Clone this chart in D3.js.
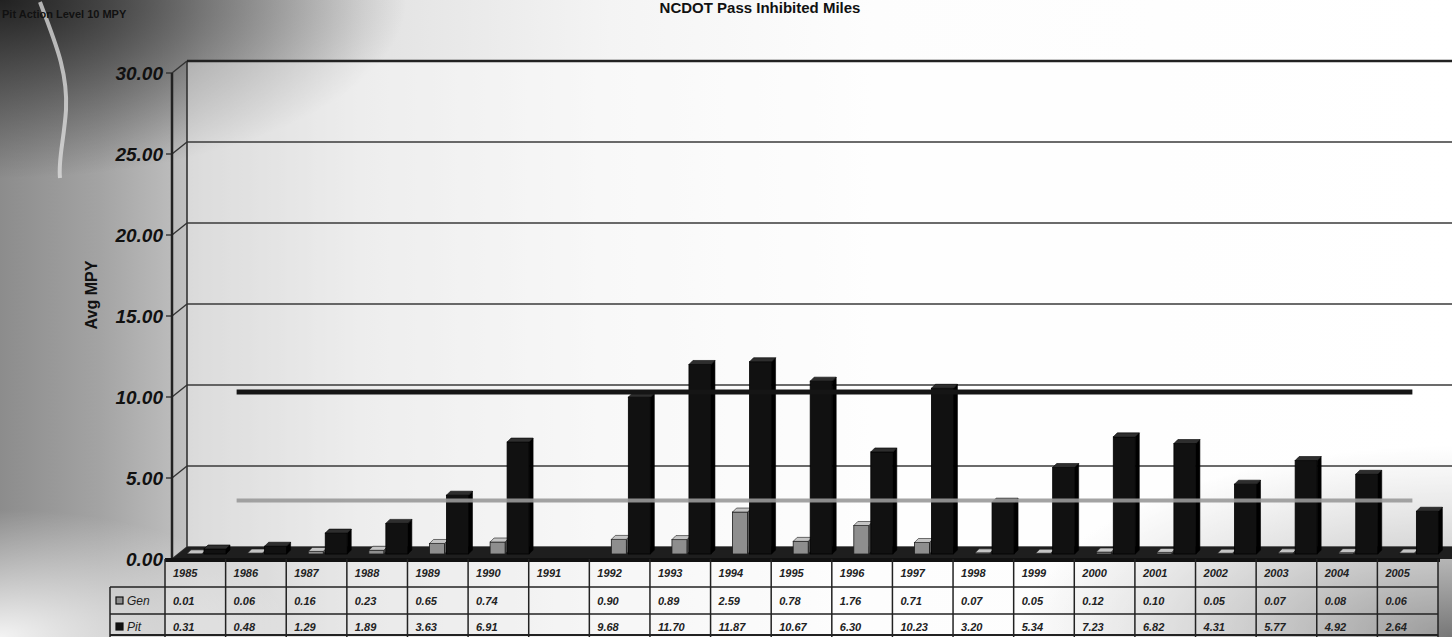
<!DOCTYPE html>
<html>
<head>
<meta charset="utf-8">
<script src="https://cdn.jsdelivr.net/npm/d3@7"></script>
<style>
html,body{margin:0;padding:0;background:#fff;overflow:hidden;}
svg{display:block;}
</style>
</head>
<body>
<svg id="chart" width="1452" height="637"></svg>
<script>
// ---------------- data ----------------
const years = ["1985","1986","1987","1988","1989","1990","1991","1992","1993","1994","1995","1996","1997","1998","1999","2000","2001","2002","2003","2004","2005"];
const genValues = [0.01,0.06,0.16,0.23,0.65,0.74,null,0.90,0.89,2.59,0.78,1.76,0.71,0.07,0.05,0.12,0.10,0.05,0.07,0.08,0.06];
const pitValues = [0.31,0.48,1.29,1.89,3.63,6.91,null,9.68,11.70,11.87,10.67,6.30,10.23,3.20,5.34,7.23,6.82,4.31,5.77,4.92,2.64];
const yTicks = [0,5,10,15,20,25,30];
const seriesNames = ["Gen","Pit"];
const actionLevel = 10;
const lowerLevel = 3.3;
const chartTitle = "NCDOT Pass Inhibited Miles";
const noteText = "Pit Action Level 10 MPY";
const yTitle = "Avg MPY";

// ---------------- layout ----------------
const svg = d3.select("#chart");
const W = 1452, H = 637;
const defs = svg.append("defs");

// background gradients (photo-like)
const g1 = defs.append("linearGradient").attr("id","bgH").attr("x1","0").attr("x2","1").attr("y1","0").attr("y2","0");
[[0,"#8c8c8c"],[0.07,"#a4a4a4"],[0.14,"#c6c6c6"],[0.25,"#e2e2e2"],[0.42,"#f4f4f4"],[0.6,"#fdfdfd"],[1,"#ffffff"]]
  .forEach(([o,c])=>g1.append("stop").attr("offset",o).attr("stop-color",c));
const g2 = defs.append("radialGradient").attr("id","bgTL").attr("cx","0").attr("cy","0").attr("r","0.28");
g2.append("stop").attr("offset",0).attr("stop-color","#1c1c1c").attr("stop-opacity",0.95);
g2.append("stop").attr("offset",1).attr("stop-color","#1c1c1c").attr("stop-opacity",0);
const g3 = defs.append("radialGradient").attr("id","bgBR").attr("cx","1").attr("cy","1").attr("r","0.3");
g3.append("stop").attr("offset",0).attr("stop-color","#555").attr("stop-opacity",0.8);
g3.append("stop").attr("offset",1).attr("stop-color","#777").attr("stop-opacity",0);
const g4 = defs.append("radialGradient").attr("id","bgBL").attr("cx","0").attr("cy","1").attr("r","0.2");
g4.append("stop").attr("offset",0).attr("stop-color","#fff").attr("stop-opacity",0.9);
g4.append("stop").attr("offset",1).attr("stop-color","#fff").attr("stop-opacity",0);

svg.append("rect").attr("width",W).attr("height",H).attr("fill","url(#bgH)");
svg.append("rect").attr("width",W).attr("height",H).attr("fill","url(#bgTL)");
svg.append("rect").attr("width",W).attr("height",H).attr("fill","url(#bgBL)");
svg.append("rect").attr("width",W).attr("height",H).attr("fill","url(#bgBR)");
// light streak on the left
svg.append("path").attr("d","M40,2 C54,40 68,70 66,110 C64,140 58,160 60,178")
  .attr("fill","none").attr("stroke","#e0e0e0").attr("stroke-width",4).attr("opacity",0.75);

// scales
const x = d3.scaleBand().domain(years).range([165, 1438]);
const y = d3.scaleLinear().domain([0,30]).range([554, 68]);
const frontDy = 5, backDy = -7;
const axisX = 172, backX = 187;
const yF = v => y(v) + frontDy;
const yB = v => y(v) + backDy;

// back wall
svg.append("rect").attr("x",backX).attr("y",yB(30)).attr("width",W-backX).attr("height",yB(0)-yB(30))
  .attr("fill","#ffffff").attr("opacity",0.4);

// gridlines on back wall
svg.append("g").selectAll("line").data(yTicks).join("line")
  .attr("x1",backX).attr("x2",W).attr("y1",d=>yB(d)).attr("y2",d=>yB(d))
  .attr("stroke","#3a3a3a").attr("stroke-width",1.5);
// connectors from front axis to back wall
svg.append("g").selectAll("line").data(yTicks).join("line")
  .attr("x1",axisX).attr("x2",backX).attr("y1",d=>yF(d)).attr("y2",d=>yB(d))
  .attr("stroke","#333").attr("stroke-width",1.4);
// ticks
svg.append("g").selectAll("line").data(yTicks).join("line")
  .attr("x1",axisX-6).attr("x2",axisX).attr("y1",d=>yF(d)).attr("y2",d=>yF(d))
  .attr("stroke","#333").attr("stroke-width",1.4);
// walls' edges
svg.append("line").attr("x1",axisX).attr("x2",axisX).attr("y1",yF(0)).attr("y2",yF(30)).attr("stroke","#222").attr("stroke-width",2.5);
svg.append("line").attr("x1",backX).attr("x2",backX).attr("y1",yB(0)).attr("y2",yB(30)).attr("stroke","#333").attr("stroke-width",1.6);
svg.append("line").attr("x1",backX).attr("x2",W).attr("y1",yB(30)).attr("y2",yB(30)).attr("stroke","#222").attr("stroke-width",2.5);

// floor
svg.append("polygon")
  .attr("points",[[axisX,yF(0)],[backX,yB(0)],[W,yB(0)],[W,yF(0)]].map(p=>p.join(",")).join(" "))
  .attr("fill","#1e1e1e");

// y tick labels
svg.append("g").selectAll("text").data(yTicks).join("text")
  .attr("x",163).attr("y",d=>yF(d)+7)
  .attr("text-anchor","end")
  .attr("font-family","Liberation Sans, Arial, sans-serif")
  .attr("font-weight","bold").attr("font-style","italic").attr("font-size",19)
  .attr("fill","#111")
  .text(d=>d3.format(".2f")(d));

// y title
svg.append("text").attr("transform","translate(97,295) rotate(-90)")
  .attr("text-anchor","middle")
  .attr("font-family","Liberation Sans, Arial, sans-serif")
  .attr("font-weight","bold").attr("font-size",16).attr("fill","#111")
  .text(yTitle);

// 3D bars
const depth = 4;
function bar3d(g, x0, w, v, cFront, cTop, cSide, stroke){
  const y0 = y(0), y1 = y(v);
  g.append("polygon").attr("points",[[x0+w,y1],[x0+w+depth,y1-depth],[x0+w+depth,y0-depth],[x0+w,y0]].map(p=>p.join(",")).join(" "))
    .attr("fill",cSide).attr("stroke",stroke).attr("stroke-width",0.6);
  g.append("rect").attr("x",x0).attr("y",y1).attr("width",w).attr("height",y0-y1)
    .attr("fill",cFront).attr("stroke",stroke).attr("stroke-width",0.8);
  g.append("polygon").attr("points",[[x0,y1],[x0+depth,y1-depth],[x0+w+depth,y1-depth],[x0+w,y1]].map(p=>p.join(",")).join(" "))
    .attr("fill",cTop).attr("stroke",stroke).attr("stroke-width",0.6);
}
const barsG = svg.append("g");
years.forEach((yr,i)=>{
  const cx = x(yr);
  if (genValues[i] != null) bar3d(barsG, cx+22, 15, genValues[i], "#8e8e8e", "#c4c4c4", "#5a5a5a", "#1a1a1a");
  if (pitValues[i] != null) bar3d(barsG, cx+39, 22, pitValues[i], "#111", "#2e2e2e", "#000", "#000");
});

// reference lines
const lx1 = x(years[1]) + 11, lx2 = x(years[years.length-1]) + 35;
svg.append("line").attr("x1",lx1).attr("x2",lx2).attr("y1",y(lowerLevel)).attr("y2",y(lowerLevel))
  .attr("stroke","#9a9a9a").attr("stroke-width",4).attr("opacity",0.9);
svg.append("line").attr("x1",lx1).attr("x2",lx2).attr("y1",y(actionLevel)).attr("y2",y(actionLevel))
  .attr("stroke","#151515").attr("stroke-width",5);

// data table
const tTop = 559, r1 = 587, r2 = 614;
const tbl = svg.append("g");
tbl.append("rect").attr("x",165).attr("y",tTop).attr("width",1438-165).attr("height",H-tTop).attr("fill","#fff").attr("opacity",0.25);
tbl.append("line").attr("x1",165).attr("x2",1440).attr("y1",tTop+1).attr("y2",tTop+1).attr("stroke","#111").attr("stroke-width",4);
[r1,r2].forEach(r=>tbl.append("line").attr("x1",110).attr("x2",1438).attr("y1",r).attr("y2",r).attr("stroke","#222").attr("stroke-width",1.5));
tbl.append("line").attr("x1",110).attr("x2",1438).attr("y1",H-2).attr("y2",H-2).attr("stroke","#222").attr("stroke-width",2);
years.concat(["end"]).forEach((yr,i)=>{
  const xx = i < years.length ? x(yr) : x(years[years.length-1]) + x.bandwidth();
  tbl.append("line").attr("x1",xx).attr("x2",xx).attr("y1",tTop).attr("y2",H).attr("stroke","#222").attr("stroke-width",1.5);
});
tbl.append("line").attr("x1",110).attr("x2",110).attr("y1",r1).attr("y2",H).attr("stroke","#222").attr("stroke-width",1.5);

const tf = "Liberation Sans, Arial, sans-serif";
tbl.selectAll("text.yr").data(years).join("text").attr("class","yr")
  .attr("x",d=>x(d)+8).attr("y",577)
  .attr("font-family",tf).attr("font-style","italic").attr("font-weight","bold").attr("font-size",11).attr("fill","#222")
  .text(d=>d);
const rowsData = [genValues, pitValues];
rowsData.forEach((vals,ri)=>{
  const ty = ri===0 ? 605 : 631;
  tbl.append("g").selectAll("text").data(vals.map((v,i)=>({v,i})).filter(d=>d.v!=null)).join("text")
    .attr("x",d=>x(years[d.i])+8).attr("y",ty)
    .attr("font-family",tf).attr("font-style","italic").attr("font-weight","bold").attr("font-size",11).attr("fill","#222")
    .text(d=>d3.format(".2f")(d.v));
});
// legend keys in row headers
seriesNames.forEach((s,ri)=>{
  const ty = ri===0 ? 605 : 631;
  tbl.append("rect").attr("x",116).attr("y",ty-8).attr("width",7).attr("height",7)
    .attr("fill",ri===0?"#8e8e8e":"#111").attr("stroke","#111").attr("stroke-width",1.2);
  tbl.append("text").attr("x",127).attr("y",ty)
    .attr("font-family",tf).attr("font-style","italic").attr("font-size",12).attr("fill","#222").text(s);
});

// title and note
svg.append("text").attr("x",760).attr("y",13).attr("text-anchor","middle")
  .attr("font-family",tf).attr("font-weight","bold").attr("font-size",15).attr("fill","#111")
  .text(chartTitle);
svg.append("text").attr("x",2).attr("y",18)
  .attr("font-family",tf).attr("font-weight","bold").attr("font-size",11).attr("fill","#111")
  .text(noteText);
</script>
</body>
</html>
